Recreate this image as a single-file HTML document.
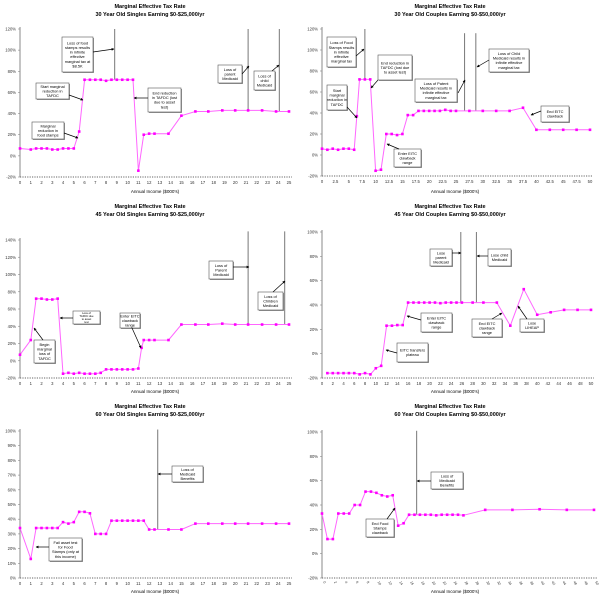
<!DOCTYPE html>
<html><head><meta charset="utf-8"><style>
html,body{margin:0;padding:0;background:#fff;}
svg{display:block;font-family:"Liberation Sans",Arial,sans-serif;}
</style></head><body>
<svg id="chart" width="600" height="600" viewBox="0 0 600 600"></svg>
<script>
// ---------- DATA ----------
const p1X=[0,1,1.5,2,2.5,3,3.5,4,4.5,5,5.5,6,6.5,7,7.5,8,8.5,9,9.5,10,10.5,11,11.5,12,12.5,13.8,15,16.3,17.5,18.8,20,21.2,22.5,23.8,25];
const p1Y=[7,6,7,7,7,6,6,7,7,7,23,72,72,72,72,71,72,72,72,72,72,-14,20,21,21,21,38,42,42,43,43,43,43,42,42];
const p2X=[0,1,2,3,4,5,6,6.5,7,8,9,10,11,12,13,14,15,16,17,18,19,20,21,22,23,24,25,27.5,30,32.5,35,37.5,40,42.5,45,47.5,50];
const p2Y=[6,5,6,5,6,6,5,37,72,72,72,-15,-14,20,20,19,20,38,38,42,42,42,42,42,43,42,42,42,42,42,42,45,24,24,24,24,24];
const p3X=[0,1,1.5,2,2.5,3,3.5,4,4.5,5,5.5,6,6.5,7,7.5,8,8.5,9,9.5,10,10.5,11,11.3,11.5,12,12.5,13.8,15,16.3,17.5,18.8,20,21.2,22.5,23.8,25];
const p3Y=[7,24,72,72,71,71,72,-15,-14,-15,-14,-15,-15,-15,-14,-10,-10,-10,-10,-10,-10,-9,15,24,24,24,24,42,42,42,43,42,42,42,42,42];
const p4X=[1,2,3,4,5,6,7,8,9,10,11,12,13,14,15,16,17,18,19,20,21,22,23,24,25,26,28,30,32.5,35,37.5,40,42.5,45,47.5,50];
const p4Y=[-16,-16,-16,-16,-16,-16,-17,-16,-17,-12,-10,23,23,23.5,23.5,42,42,42,42,42,42,41.5,42,42,42,42,42,42,42,23,53,32,34,36,36,36];
const p5X=[0,1,1.5,2,2.5,3,3.5,4,4.5,5,5.5,6,6.5,7,7.5,8,8.5,9,9.5,10,10.5,11,11.5,12,12.5,13.8,15,16.3,17.5,18.8,20,21.2,22.5,23.8,25];
const p5Y=[34,13,34,34,34,34,34,38,37,38,45,45,44,30,30,30,39,39,39,39,39,39,39,33,33,33,33,37,37,37,37,37,37,37,37];
const p6X=[0,1,2,3,4,5,6,7,8,9,10,11,12,13,14,15,16,17,18,19,20,21,22,23,24,25,26,30,35,40,45,50];
const p6Y=[33,12,12,33,33,33,40,40,51,51,50,48,47,48,23,25,32,32,32,32,32,31.5,32,32,32,32,31.5,36,36,36.5,36,36];
const yTicks1=[-20,0,20,40,60,80,100,120];
const yTicks3=[-20,0,20,40,60,80,100,120,140];
const yTicks4=[-20,0,20,40,60,80,100];
const yTicks5=[0,10,20,30,40,50,60,70,80,90,100];
const xTicks25=[0,1,2,3,4,5,6,7,8,9,10,11,12,13,14,15,16,17,18,19,20,21,22,23,24,25];
const xTicks50h=[0,2.5,5,7.5,10,12.5,15,17.5,20,22.5,25,27.5,30,32.5,35,37.5,40,42.5,45,47.5,50];
const xTicks50e=[0,2,4,6,8,10,12,14,16,18,20,22,24,26,28,30,32,34,36,38,40,42,44,46,48,50];

const panels=[
 {ox:0,oy:0,sub:"30 Year Old Singles Earning $0-$25,000/yr",x0:20,x1:289,y0:177,y1:29,xmin:0,xmax:25,ymin:-20,ymax:120,X:p1X,Y:p1Y,yt:yTicks1,xt:xTicks25,
  vl:[[8.8,120,72],[21.2,120,43],[24.1,120,42]],
  boxes:[[62,37,31,35,["Loss of food","stamps results","in infinite","effective","marginal tax at","$8.5K"]],[36,83,33,16,["Start marginal","reduction in","TAFDC"]],[32,122,32,17,["Marginal","reduction in","food stamps"]],[148,88,33,24,["End reduction","in TAFDC (lost","due to asset","test)"]],[218,65,24,18,["Loss of","parent","Medicaid"]],[254,71,21,19,["Loss of","child","Medicaid"]]],
  arr:[[93,52,114,49],[69,95,83,100],[64,133,78,138],[148,98,134,98],[242,74,249,66],[272,71,279,65]]},
 {ox:300,oy:0,sub:"30 Year Old Couples Earning $0-$50,000/yr",x0:22,x1:290,y0:176,y1:29,xmin:0,xmax:50,ymin:-20,ymax:120,X:p2X,Y:p2Y,yt:yTicks1,xt:xTicks50h,
  vl:[[8,120,72],[26.6,116,42],[28.7,116,42]],
  boxes:[[27,37,29,30,["Loss of Food","Stamps results","in infinite","effective","marginal tax"]],[27,85,20,25,["Start","marginal","reduction in","TAFDC"]],[78,55,34,25,["End reduction in","TAFDC (lost due","to asset test)"]],[94,149,27,18,["Enter EITC","clawback","range"]],[115,79,42,23,["Loss of Patent","Medicaid results in","infinite effective","marginal tax"]],[189,49,40,23,["Loss of Child","Medicaid results in","infinite effective","marginal tax"]],[241,106,28,16,["End EITC","clawback"]]],
  arr:[[56,56,64,49],[47,107,57,118],[78,80,71,88],[99,149,87,144],[158,93,165,80],[189,60,177,67],[241,111,231,115]]},
 {ox:0,oy:200,sub:"45 Year Old Singles Earning $0-$25,000/yr",x0:20,x1:289,y0:178,y1:40,xmin:0,xmax:25,ymin:-20,ymax:140,X:p3X,Y:p3Y,yt:yTicks3,xt:xTicks25,
  vl:[[21.2,150,42],[24.6,150,42]],
  boxes:[[34,140,21,23,["Begin","marginal","loss of","TAFDC"]],[73,111,27,13,["Loss of","TAFDC due","to asset","test"]],[120,113,20,15,["Enter EITC","clawback","range"]],[209,61,24,18,["Loss of","Parent","Medicaid"]],[258,92,25,18,["Loss of","Children","Medicaid"]]],
  arr:[[43,140,34,128],[73,118,60,118],[132,128,141,148],[233,67,249,67],[273,92,285,81]]},
 {ox:300,oy:200,sub:"45 Year Old Couples Earning $0-$50,000/yr",x0:22,x1:291,y0:178,y1:32,xmin:0,xmax:50,ymin:-20,ymax:100,X:p4X,Y:p4Y,yt:yTicks4,xt:xTicks50e,
  vl:[[25.8,100,42],[28.7,100,42]],
  boxes:[[130,49,22,17,["Lose","parent","Medicaid"]],[188,49,23,17,["Lose child","Medicaid"]],[121,113,31,19,["Enter EITC","clawback","range"]],[97,143,31,19,["EITC transfers","plateau"]],[172,119,30,18,["End EITC","clawback","range"]],[220,119,24,13,["Lose","LIHEAP"]]],
  arr:[[152,53,161,53],[188,56,177,56],[121,120,107,116],[97,153,86,150],[192,119,202,113],[227,119,218,106]]},
 {ox:0,oy:400,sub:"60 Year Old Singles Earning $0-$25,000/yr",x0:20,x1:289,y0:178,y1:31,xmin:0,xmax:25,ymin:0,ymax:100,X:p5X,Y:p5Y,yt:yTicks5,xt:xTicks25,
  vl:[[12.8,101,33]],
  boxes:[[49,138,33,23,["Fail asset test","for Food","Stamps (only at","this income)"]],[172,66,31,16,["Loss of","Medicaid","Benefits"]]],
  arr:[[49,147,36,147],[172,74,158,74]]},
 {ox:300,oy:400,sub:"60 Year Old Couples Earning $0-$50,000/yr",x0:22,x1:294,y0:178,y1:32,xmin:0,xmax:50,ymin:-20,ymax:100,X:p6X,Y:p6Y,yt:yTicks4,xt:xTicks50e,rot:true,
  vl:[[17.4,101,32]],
  boxes:[[131,72,32,17,["Loss of","Medicaid","Benefits"]],[66,119,28,18,["End Food","Stamps","clawback"]]],
  arr:[[131,81,117,81],[87,119,95,108]]}
];

const NS="http://www.w3.org/2000/svg";
const svg=document.getElementById('chart');
const defs=document.createElementNS(NS,'defs');
defs.innerHTML='<marker id="ah" markerWidth="4" markerHeight="4" refX="3.5" refY="2" orient="auto"><path d="M0,0 L4,2 L0,4 z" fill="#000"/></marker>';
svg.appendChild(defs);
function mk(tag,attrs,parent){const e=document.createElementNS(NS,tag);for(const k in attrs)e.setAttribute(k,attrs[k]);parent.appendChild(e);return e;}

panels.forEach((p,pi)=>{
  const g=mk('g',{transform:`translate(${p.ox},${p.oy})`},svg);
  
  
  const sx=v=>p.x0+(v-p.xmin)/(p.xmax-p.xmin)*(p.x1-p.x0);
  const sy=v=>p.y0-(v-p.ymin)/(p.ymax-p.ymin)*(p.y0-p.y1);
  const t1=mk('text',{x:150,y:8,'text-anchor':'middle','font-size':5.5,'font-weight':'bold'},g);t1.textContent='Marginal Effective Tax Rate';
  
  
  const t2=mk('text',{x:150,y:16,'text-anchor':'middle','font-size':5.5,'font-weight':'bold'},g);t2.textContent=p.sub;
  
  
  const ya=mk('line',{x1:p.x0,y1:p.y1-2,x2:p.x0,y2:p.y0,stroke:'#888','stroke-width':1},g);
  
  
  p.yt.forEach(v=>{
    mk('line',{x1:p.x0-2,y1:sy(v),x2:p.x0,y2:sy(v),stroke:'#888','stroke-width':0.6},g);
    const t=mk('text',{x:p.x0-4,y:sy(v)+1.5,'text-anchor':'end','font-size':4.2,fill:'#333'},g);t.textContent=v+'%';
    
    
  });
  const xa=mk('line',{x1:p.x0,y1:p.y0,x2:p.x1+3,y2:p.y0,stroke:'#666','stroke-width':1,'stroke-dasharray':'1.2,1.2'},g);
  
  
  p.xt.forEach(v=>{
    const t=mk('text',{'font-size':4.2,fill:'#333'},g);
    if(p.rot){t.setAttribute('transform',`translate(${sx(v)+1},${p.y0+4}) rotate(60)`);t.setAttribute('font-size',3.5);}
    else{t.setAttribute('x',sx(v));t.setAttribute('y',p.y0+7);t.setAttribute('text-anchor','middle');}
    t.textContent=v;
    
    
  });
  const xl=mk('text',{x:155,y:193,'text-anchor':'middle','font-size':4.6},g);xl.textContent="Annual Income ($000's)";
  
  
  p.vl.forEach(v=>{
    const l=mk('line',{x1:sx(v[0]),y1:sy(v[1]),x2:sx(v[0]),y2:sy(v[2]),stroke:'#777','stroke-width':1},g);
    
    
  });
  const pts=p.X.map((x,i)=>sx(x).toFixed(1)+','+sy(p.Y[i]).toFixed(1)).join(' ');
  const pl=mk('polyline',{points:pts,fill:'none',stroke:'#ff66ff','stroke-width':1},g);
  
  
  p.X.forEach((x,i)=>{
    const r=mk('rect',{x:sx(x)-1.3,y:sy(p.Y[i])-1.3,width:2.6,height:2.6,fill:'#ff00ff'},g);
    
    
  });
  p.boxes.forEach(b=>{
    const bg=mk('g',{},g);
    
    
    mk('rect',{x:b[0]+1,y:b[1]+1,width:b[2],height:b[3],fill:'#999'},bg);
    mk('rect',{x:b[0],y:b[1],width:b[2],height:b[3],fill:'#fff',stroke:'#555','stroke-width':0.6},bg);
    const n=b[4].length,lh=Math.min(4.6,(b[3]-1.5)/n),fs=Math.min(3.9,lh*0.95);
    b[4].forEach((s,k)=>{
      const t=mk('text',{x:b[0]+b[2]/2,y:b[1]+b[3]/2-(n-1)*lh/2+k*lh+fs*0.36,'text-anchor':'middle','font-size':fs},bg);
      t.textContent=s;
    });
  });
  p.arr.forEach(a=>{
    const l=mk('line',{x1:a[0],y1:a[1],x2:a[2],y2:a[3],stroke:'#000','stroke-width':0.7,'marker-end':'url(#ah)'},g);
    
    
  });
});
</script>
</body></html>
